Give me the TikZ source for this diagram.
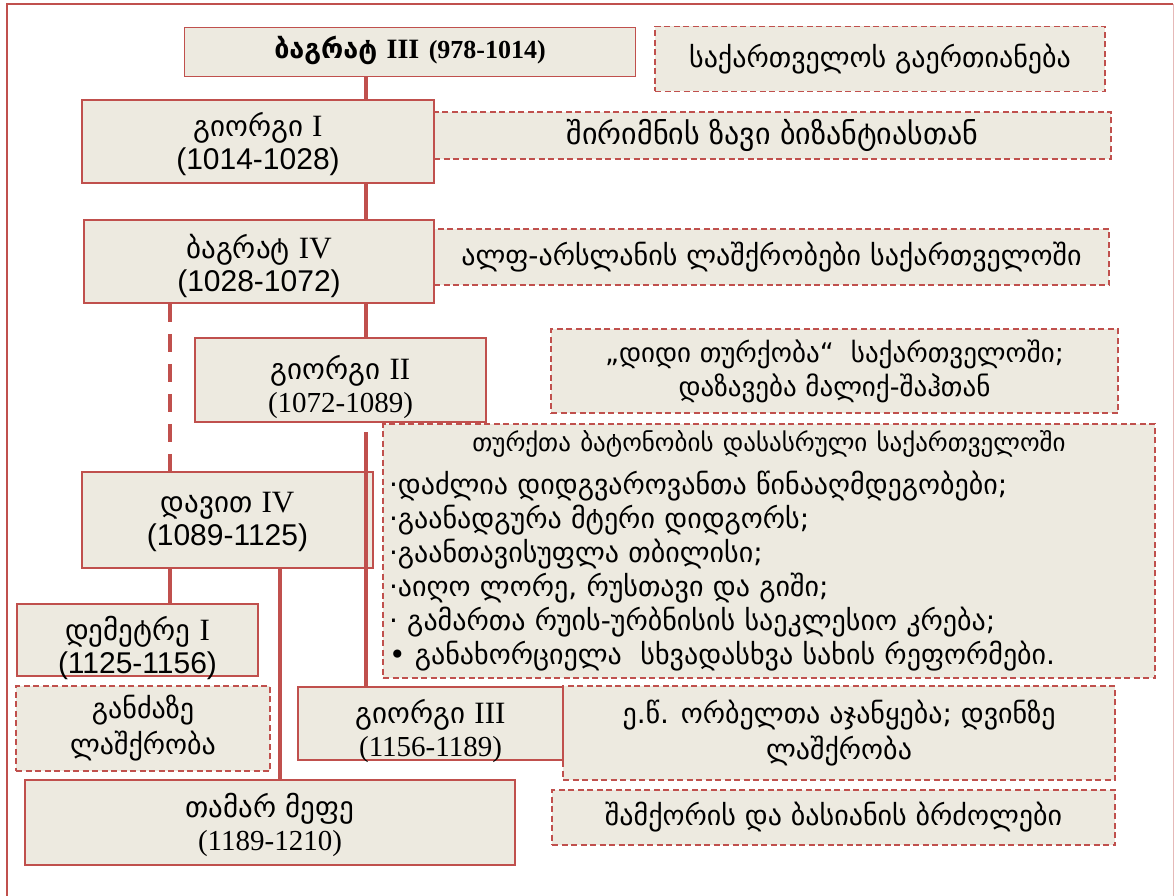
\documentclass[tikz,border=0pt]{standalone}
\usepackage{fontspec}
\setmainfont{DejaVu Sans}
\newfontfamily\numrm{Liberation Serif}
\newfontfamily\numsf{Liberation Sans}
\definecolor{kred}{RGB}{192,80,77}
\definecolor{kbeige}{RGB}{237,234,224}
\newcommand{\rn}[1]{{\numrm\fontsize{31}{33}\selectfont #1}}
\newcommand{\sfyr}[1]{{\numsf\fontsize{30}{33}\selectfont #1}}
\newcommand{\rmyr}[1]{{\numrm\fontsize{29}{33}\selectfont #1}}
\tikzset{
  king/.style={draw=kred, fill=kbeige, line width=1.8pt, align=center, inner sep=0pt,
    font=\fontsize{29}{33}\selectfont, text height=60pt, text depth=0pt},
  event/.style={draw=kred, fill=kbeige, line width=1.5pt, dash pattern=on 6pt off 3.5pt,
    align=center, inner sep=0pt, font=\fontsize{28}{36}\selectfont},
  link/.style={kred, line width=4pt},
}

\begin{document}
\begin{tikzpicture}[x=1pt, y=-1pt]
  \useasboundingbox (0,0) rectangle (1175,896);

  % Frame
  \draw[kred, line width=1.5pt] (7,896) -- (7,4) -- (1173,4);
  \draw[kred!40, line width=1pt] (1173,4) -- (1173,896);

  % Events
  \node[event, minimum width=450, minimum height=65] (unite) at (880,59) {საქართველოს გაერთიანება};
  \node[event, minimum width=677, minimum height=47, font=\fontsize{30}{36}\selectfont] (peace) at (772.5,135.5) {შირიმნის ზავი ბიზანტიასთან};
  \node[event, minimum width=675, minimum height=56] (alp) at (771.5,257) {ალფ-არსლანის ლაშქრობები საქართველოში};
  \node[event, minimum width=567, minimum height=84, font=\fontsize{27}{34}\selectfont] (turks) at (834.5,371) {„დიდი თურქობა“~~საქართველოში;\\დაზავება მალიქ-შაჰთან};
  \node[event, minimum width=772, minimum height=254, align=left, text width=760pt,
    font=\fontsize{28}{34}\selectfont] (reign) at (769,551)
    {{\fontsize{25}{34}\selectfont\makebox[760pt]{თურქთა ბატონობის დასასრული საქართველოში}}\\[9pt]
     ·დაძლია დიდგვაროვანთა წინააღმდეგობები;\\
     ·გაანადგურა მტერი დიდგორს;\\
     ·გაანთავისუფლა თბილისი;\\
     ·აიღო ლორე, რუსთავი და გიში;\\
     · გამართა რუის-ურბნისის საეკლესიო კრება;\\
     • განახორციელა~~სხვადასხვა სახის რეფორმები.};
  \node[event, minimum width=254, minimum height=85] (ganja) at (143,728.5) {განძაზე\\ლაშქრობა};
  \node[event, minimum width=552, minimum height=94] (orbeli) at (839,733) {ე.წ. ორბელთა აჯანყება; დვინზე\\ლაშქრობა};
  \node[event, minimum width=563, minimum height=55] (battles) at (833.5,817.5) {შამქორის და ბასიანის ბრძოლები};

  % Kings
  \node[king, minimum width=451, minimum height=49, font=\fontsize{27}{30}\selectfont\bfseries,
    text height=20pt, text depth=6pt] (bagIII) at (410,52)
    {ბაგრატ {\numrm\fontsize{28}{30}\selectfont III} {\numrm\fontsize{26}{30}\selectfont (978-1014)}};
  \node[king, minimum width=352, minimum height=83, text height=57pt] (giorgiI) at (258,141.5) {გიორგი \rn{I}\\\sfyr{(1014-1028)}};
  \node[king, minimum width=350, minimum height=83] (bagIV) at (259,261.5) {ბაგრატ \rn{IV}\\\sfyr{(1028-1072)}};
  \node[king, minimum width=291, minimum height=84, text height=64pt] (giorgiII) at (340.5,380) {გიორგი \rn{II}\\\rmyr{(1072-1089)}};
  \node[king, minimum width=291, minimum height=96, text height=50pt] (davit) at (227.5,520) {დავით \rn{IV}\\\sfyr{(1089-1125)}};
  \node[king, minimum width=241, minimum height=72, text height=66pt] (demetre) at (137.5,640) {დემეტრე \rn{I}\\\sfyr{(1125-1156)}};
  \node[king, minimum width=265, minimum height=73, text height=66pt] (giorgiIII) at (430.5,723.5) {გიორგი \rn{III}\\\rmyr{(1156-1189)}};
  \node[king, minimum width=490, minimum height=85, text height=56pt] (tamar) at (270,822.5) {თამარ მეფე\\\rmyr{(1189-1210)}};

  % Lines
  \coordinate (trunk) at (366,0);
  \coordinate (gap) at (366,432);
  \coordinate (left) at (170,0);
  \coordinate (right) at (280,0);
  \foreach \a/\b in {bagIII/giorgiI, giorgiI/bagIV, bagIV/giorgiII}
    \draw[link] (\a.south -| trunk) -- (\b.north -| trunk);
  \draw[link] (gap) -- (giorgiIII.north -| gap);
  \draw[link, dash pattern=on 18pt off 12pt] (bagIV.south -| left) -- (davit.north -| left);
  \draw[link] (davit.south -| left) -- (demetre.north -| left);
  \draw[link] (davit.south -| right) -- (tamar.north -| right);
\end{tikzpicture}
\end{document}
